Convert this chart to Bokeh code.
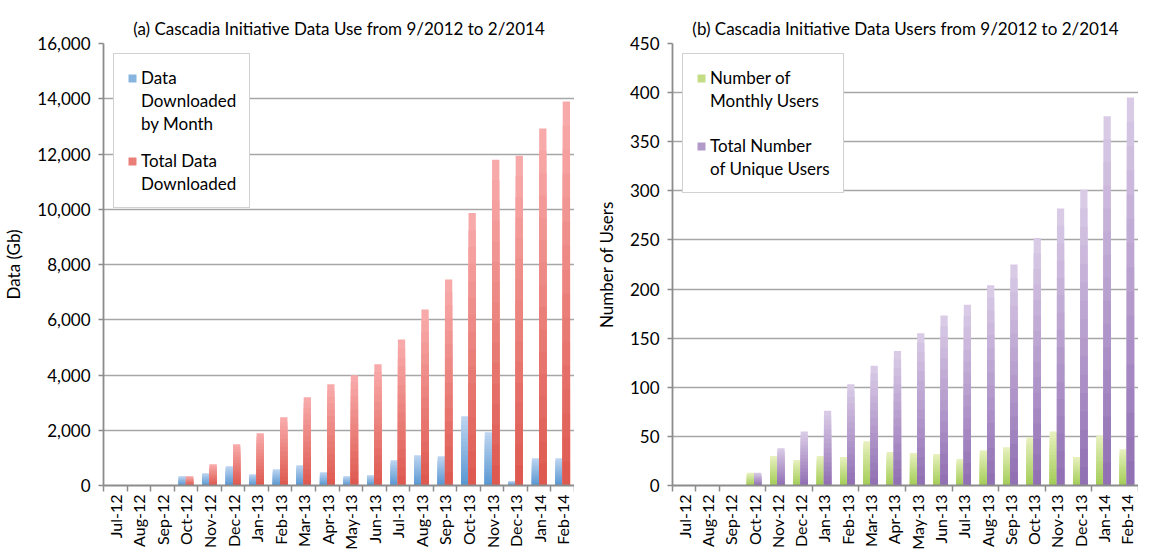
import numpy as np
from bokeh.plotting import figure
from bokeh.models import FixedTicker, Legend, LegendItem, NumeralTickFormatter, Range1d
from bokeh.layouts import row
from bokeh.embed import file_html
from bokeh.resources import INLINE

months = ["Jul-12", "Aug-12", "Sep-12", "Oct-12", "Nov-12", "Dec-12", "Jan-13", "Feb-13",
          "Mar-13", "Apr-13", "May-13", "Jun-13", "Jul-13", "Aug-13", "Sep-13", "Oct-13",
          "Nov-13", "Dec-13", "Jan-14", "Feb-14"]
monthly_gb = [15, 5, 5, 337, 446, 699, 410, 590, 735, 482, 337, 373, 916, 1096, 1060,
              2506, 1928, 157, 988, 988]
total_gb = [15, 5, 5, 337, 771, 1494, 1892, 2470, 3193, 3663, 3988, 4386, 5289, 6373,
            7458, 9867, 11794, 11939, 12921, 13903]
monthly_users = [0.6, 0.6, 0.6, 13, 30, 26, 30, 29, 45, 34, 33, 32, 27, 36, 39, 49, 55,
                 29, 51, 37]
total_users = [0.6, 0.6, 0.6, 13, 38, 55, 76, 103, 122, 137, 155, 173, 184, 204, 225,
               252, 282, 301, 376, 395]

FONT = "Lato"
TXT = "#000000"


def mix(c1, c2, t):
    a = [int(c1[i:i + 2], 16) for i in (1, 3, 5)]
    b = [int(c2[i:i + 2], 16) for i in (1, 3, 5)]
    return "#%02x%02x%02x" % tuple(int(round(a[j] + (b[j] - a[j]) * t)) for j in range(3))


def grad_bars(p, xs, vals, top_c, bot_c, width, n=16):
    rs = []
    for k in range(n):
        f = 1 - k / n
        c = mix(top_c, bot_c, k / (n - 1))
        rs.append(p.vbar(x=xs, top=[v * f for v in vals], bottom=0, width=width,
                         fill_color=c, line_color=None))
    return rs


def make_fig(title, width, ylabel, ymax, ystep, fmt, border_left, boundary_ticks):
    p = figure(width=width, height=552, output_backend="svg", toolbar_location=None,
               x_range=Range1d(-0.5, len(months) - 0.5), y_range=Range1d(0, ymax),
               min_border_top=43, min_border_right=0, min_border_bottom=0,
               min_border_left=border_left)
    p.title.text = title
    p.title.align = "center"
    p.title.text_font = FONT
    p.title.text_font_size = "17px"
    p.title.text_font_style = "normal"
    p.title.text_color = TXT
    p.outline_line_color = None
    p.xgrid.grid_line_color = None
    p.ygrid.grid_line_color = "#a6a6a6"
    p.ygrid.grid_line_width = 1.6
    xa = p.xaxis[0]
    xa.ticker = FixedTicker(ticks=list(range(len(months))), minor_ticks=boundary_ticks)
    xa.major_label_overrides = {i: m for i, m in enumerate(months)}
    xa.major_label_orientation = np.pi / 2
    xa.major_label_standoff = 3
    xa.major_label_text_font_size = "16px"
    xa.minor_tick_line_color = "#8c8c8c"
    xa.minor_tick_line_width = 1.5
    xa.minor_tick_out = 6
    xa.minor_tick_in = 0
    ya = p.yaxis[0]
    ya.ticker = FixedTicker(ticks=list(range(0, ymax + 1, ystep)))
    ya.formatter = NumeralTickFormatter(format=fmt)
    ya.minor_tick_line_color = None
    ya.major_tick_out = 5
    ya.major_tick_in = 0
    ya.major_label_standoff = 8
    ya.major_label_text_font_size = "17px"
    ya.axis_label = ylabel
    ya.axis_label_text_font_style = "normal"
    ya.axis_label_standoff = 10
    for ax in (xa, ya):
        ax.axis_line_color = "#8c8c8c"
        ax.axis_line_width = 1.8
        ax.major_tick_line_color = "#8c8c8c" if ax is ya else None
        ax.major_tick_line_width = 1.5
        ax.major_label_text_font = FONT
        ax.major_label_text_color = TXT
        ax.axis_label_text_font = FONT
        ax.axis_label_text_font_size = "17px"
        ax.axis_label_text_color = TXT
    return p


def add_legend(p, entries, sep_h):
    dummy = p.vbar(x=[], top=[], width=0.1, fill_alpha=0, line_alpha=0)
    items = []
    for lines, r in entries:
        if items:
            items.append(LegendItem(label="", renderers=[dummy]))
        for j, ln in enumerate(lines):
            items.append(LegendItem(label=ln, renderers=[r if j == 0 else dummy]))
    lg = Legend(items=items, location="top_left", margin=10,
                label_text_font=FONT, label_text_font_size="17px", label_text_color=TXT,
                glyph_width=10, glyph_height=10, label_standoff=4, spacing=2,
                label_height=sep_h, padding=13, border_line_color="#a6a6a6",
                border_line_width=1.5, background_fill_color="white",
                background_fill_alpha=1.0)
    p.add_layout(lg)


W = 0.31
n = len(months)
xa_ = [i - 0.155 for i in range(n)]
xb_ = [i + 0.155 for i in range(n)]

left_ticks = [i - 0.5 for i in range(n + 1)]
right_ticks = [-0.5, 0.5, 1.5] + [i - 0.5 for i in range(4, n + 1, 2)]

p1 = make_fig("(a) Cascadia Initiative Data Use from 9/2012 to 2/2014", 574,
              "Data (Gb)", 16000, 2000, "0,0", 91, left_ticks)
rb = grad_bars(p1, xa_, monthly_gb, "#bcd4f0", "#5a98d2", W)
rr = grad_bars(p1, xb_, total_gb, "#f8aaaa", "#de5a50", W)
add_legend(p1, [(["Data", "Downloaded", "by Month"], rb[8]),
                (["Total Data", "Downloaded"], rr[8])], 12)

p2 = make_fig("(b) Cascadia Initiative Data Users from 9/2012 to 2/2014", 564,
              "Number of Users", 450, 50, "0", 98, right_ticks)
rg = grad_bars(p2, xa_, monthly_users, "#e6f0bc", "#a4cd58", W)
rp = grad_bars(p2, xb_, total_users, "#d9cae6", "#9270b4", W)
add_legend(p2, [(["Number of", "Monthly Users"], rg[8]),
                (["Total Number", "of Unique Users"], rp[8])], 20)

layout = row(p1, p2)
open("out.html", "w").write(file_html(layout, INLINE))
